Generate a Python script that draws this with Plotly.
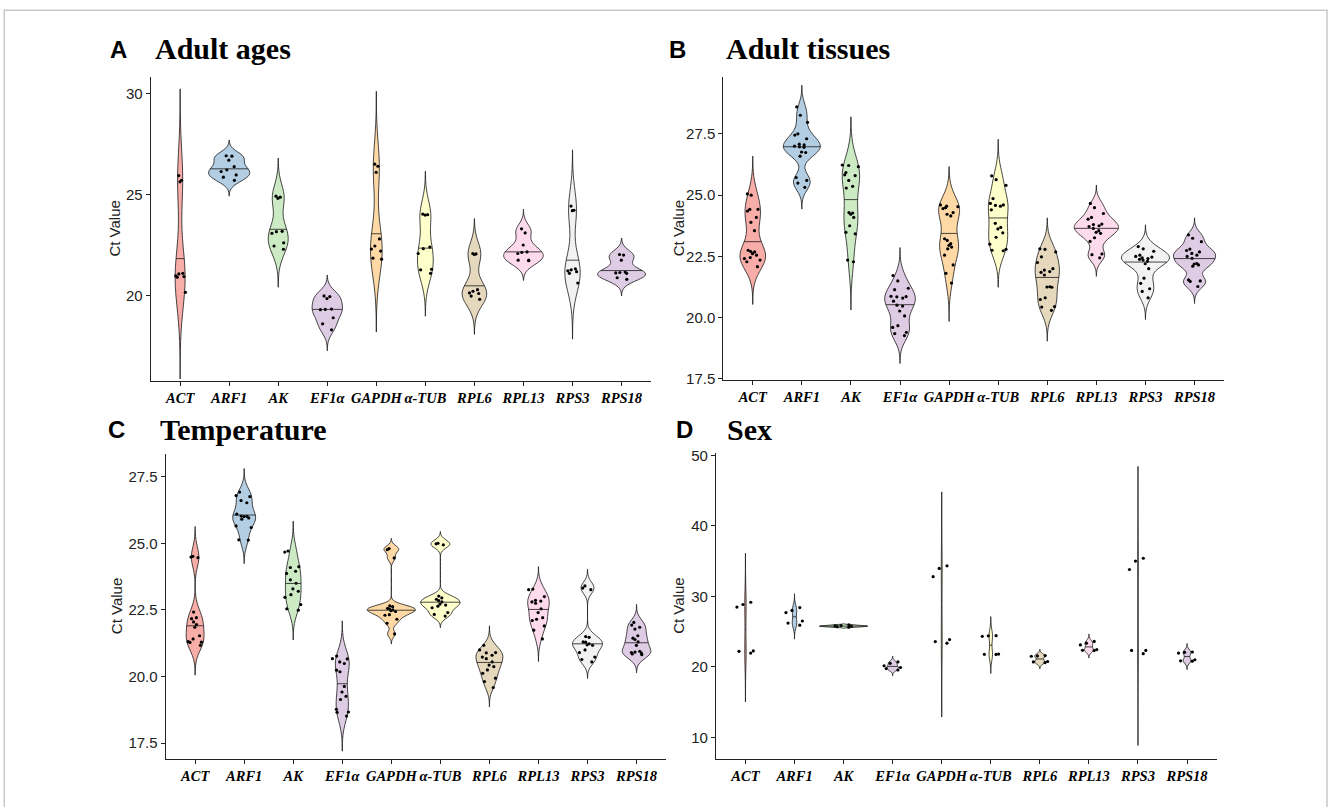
import numpy as np
import plotly.graph_objects as go

# ---------------- data (Ct values) ----------------
genes = ["ACT", "ARF1", "AK", "EF1α", "GAPDH", "α-TUB", "RPL6", "RPL13", "RPS3", "RPS18"]
fill_colors = ["#F8ADA8", "#B3CDE3", "#CCEBC5", "#DECBE4", "#FED9A6",
               "#FFFFCC", "#E5D8BD", "#FDDAEC", "#F2F2F2", "#DECBE4"]

ages_ct = [
    [25.94, 25.70, 25.63, 21.10, 21.07, 20.97, 20.94, 20.91, 20.16],
    [26.92, 26.90, 26.70, 26.38, 26.22, 26.14, 25.97, 25.86, 25.70],
    [24.92, 24.87, 24.81, 23.18, 23.16, 23.08, 22.61, 22.45, 22.29],
    [19.98, 19.95, 19.85, 19.33, 19.31, 19.30, 18.90, 18.60, 18.30],
    [26.50, 26.40, 26.10, 22.80, 22.45, 22.30, 22.20, 21.85, 21.80],
    [24.03, 23.98, 24.00, 22.40, 22.32, 22.08, 21.30, 21.27, 21.10],
    [22.08, 22.06, 22.03, 20.29, 20.21, 20.13, 20.10, 19.97, 19.81],
    [23.30, 23.10, 22.50, 22.16, 22.14, 22.08, 21.75, 21.75, 21.72],
    [24.43, 24.22, 24.20, 21.32, 21.27, 21.22, 21.18, 21.10, 20.62],
    [22.03, 22.00, 21.75, 21.16, 21.14, 21.12, 21.10, 20.88, 20.80],
]

tissues_ct = [
    [25.00, 25.05, 24.42, 24.42, 24.35, 24.09, 23.89, 23.55, 22.75,
     22.68, 22.61, 22.55, 22.41, 22.35, 22.28, 22.08, 22.70, 22.45],
    [28.60, 28.26, 27.97, 27.50, 27.45, 27.30, 27.08, 27.05, 27.00,
     26.97, 26.95, 26.76, 26.74, 26.59, 25.72, 25.49, 25.32, 25.60],
    [26.23, 26.21, 26.16, 25.92, 25.83, 25.80, 25.60, 25.36, 25.29,
     24.29, 24.27, 24.22, 24.09, 23.75, 23.48, 23.42, 22.35, 22.28],
    [21.72, 21.50, 21.20, 21.14, 20.87, 20.86, 20.85, 20.80, 20.67,
     20.51, 20.47, 20.27, 20.07, 19.67, 19.60, 19.40, 19.27, 19.35],
    [24.60, 24.55, 24.53, 24.49, 24.45, 24.29, 24.22, 24.15, 23.22,
     23.15, 23.02, 22.95, 22.88, 22.81, 22.55, 22.15, 21.81, 21.41],
    [25.79, 25.63, 25.40, 24.86, 24.66, 24.60, 24.58, 24.55, 24.40,
     23.85, 23.68, 23.62, 23.46, 23.28, 23.00, 22.79, 22.75, 22.73],
    [22.81, 22.79, 22.68, 22.48, 22.25, 22.00, 21.94, 21.88, 21.85,
     21.74, 21.25, 21.24, 21.26, 20.81, 20.74, 20.45, 20.43, 20.30],
    [24.66, 24.49, 24.25, 24.09, 24.02, 23.82, 23.80, 23.75, 23.72,
     23.64, 23.55, 23.48, 23.44, 23.26, 23.11, 22.60, 22.57, 22.44],
    [22.90, 22.81, 22.71, 22.55, 22.50, 22.47, 22.44, 22.41, 22.38,
     22.35, 22.30, 22.20, 22.00, 21.61, 21.18, 21.07, 20.81, 21.40],
    [23.38, 23.24, 23.10, 22.80, 22.74, 22.68, 22.62, 22.55, 22.50,
     22.42, 22.21, 22.19, 22.15, 22.10, 21.54, 21.50, 21.48, 21.27],
]

temperature_ct = [
    [24.51, 24.48, 24.46, 22.42, 22.21, 22.17, 22.05, 21.95, 21.85,
     21.53, 21.41, 21.31, 21.29, 21.28, 21.17],
    [26.92, 26.79, 26.75, 26.60, 26.52, 26.09, 26.02, 26.01, 25.95,
     25.90, 25.65, 25.59, 25.13, 25.12, 26.00],
    [24.71, 24.67, 24.12, 24.09, 23.95, 23.87, 23.63, 23.50, 23.29,
     23.20, 23.07, 22.97, 22.70, 22.54, 22.49],
    [20.77, 20.67, 20.66, 20.55, 20.49, 20.24, 20.18, 19.63, 19.42,
     19.26, 19.14, 18.77, 18.67, 18.66, 18.52],
    [24.80, 24.76, 24.45, 22.65, 22.62, 22.56, 22.53, 22.50, 22.47,
     22.44, 22.32, 22.30, 22.15, 22.00, 21.60],
    [25.00, 24.98, 24.94, 23.02, 22.95, 22.90, 22.85, 22.80, 22.72,
     22.68, 22.64, 22.58, 22.40, 22.33, 22.27],
    [21.17, 21.00, 20.90, 20.89, 20.80, 20.73, 20.67, 20.55, 20.43,
     20.37, 20.25, 20.12, 19.94, 19.81, 19.59],
    [23.28, 23.26, 23.00, 22.86, 22.83, 22.80, 22.75, 22.54, 22.40,
     22.21, 22.15, 22.10, 21.90, 21.74, 21.41],
    [23.40, 23.32, 23.26, 21.50, 21.47, 21.30, 21.29, 21.23, 21.19,
     21.17, 21.00, 20.90, 20.73, 20.64, 20.55],
    [22.03, 21.93, 21.85, 21.78, 21.53, 21.44, 21.39, 21.30, 21.17,
     20.95, 20.92, 20.90, 20.88, 20.85, 20.82],
]

sex_ct = [
    [29.16, 28.84, 28.47, 22.19, 22.25, 21.95],
    [28.40, 28.00, 27.70, 26.50, 26.20, 25.90],
    [25.95, 25.85, 25.80, 25.75, 25.70, 25.62],
    [20.70, 20.50, 20.15, 19.90, 19.75, 19.55],
    [34.33, 33.95, 32.79, 23.86, 23.58, 23.35],
    [24.42, 24.40, 24.33, 21.80, 21.77, 21.75],
    [21.60, 21.55, 21.50, 20.75, 20.70, 20.60],
    [23.60, 23.35, 23.10, 22.45, 22.35, 22.30],
    [35.40, 35.00, 33.80, 22.33, 22.33, 21.86],
    [22.10, 22.05, 21.95, 21.00, 20.85, 20.80],
]

panel_letters = ["A", "B", "C", "D"]
panel_titles = ["Adult ages", "Adult tissues", "Temperature", "Sex"]
panel_data = [ages_ct, tissues_ct, temperature_ct, sex_ct]
y_tick_values = [[20, 25, 30], [17.5, 20, 22.5, 25, 27.5],
                 [17.5, 20, 22.5, 25, 27.5], [10, 20, 30, 40, 50]]
y_tick_labels = [["20", "25", "30"],
                 ["17.5", "20.0", "22.5", "25.0", "27.5"],
                 ["17.5", "20.0", "22.5", "25.0", "27.5"],
                 ["10", "20", "30", "40", "50"]]
y_ranges = [[15.79, 30.84], [17.46, 29.84], [16.92, 28.36], [6.97, 50.33]]

# ---------------- layout geometry (pixels) ----------------
W, H = 1328, 807
plot_px_x = [(150.7, 651.0), (723.3, 1224.0), (165.7, 666.0), (716.0, 1216.5)]
plot_px_y = [(71.7, 380.7), (71.7, 380.0), (455.0, 765.0), (454.3, 765.0)]
letter_px = [(108, 44.0), (667, 44.0), (106, 430.0), (674, 430.0)]
title_px = [(153, 43.5), (724, 43.5), (158, 430.5), (725, 430.5)]
ytitle_px_x = [115, 678, 116, 679]

VIOLIN_GAP = 0.02           # violin half-width = 0.5 * (1 - gap) category units
BD_POS = 0.5 * (1 - VIOLIN_GAP)
LINE_C = "#1a1a1a"


def nrd0(v):
    v = np.asarray(v, float)
    sd = v.std(ddof=1)
    q75, q25 = np.percentile(v, [75, 25])
    lo = min(sd, (q75 - q25) / 1.34)
    if lo <= 0:
        lo = sd if sd > 0 else 1.0
    return 0.9 * lo * len(v) ** -0.2


def kde(v, bw, t):
    v = np.asarray(v, float)
    t = np.atleast_1d(np.asarray(t, float))
    z = (t[:, None] - v[None, :]) / bw
    return np.exp(-0.5 * z * z).sum(1) / (len(v) * bw * np.sqrt(2 * np.pi))


fig = go.Figure()
layout = {}
annotations = []

for p in range(4):
    data = panel_data[p]
    ax = "" if p == 0 else str(p + 1)
    xref, yref = "x" + ax, "y" + ax

    bws = [nrd0(v) for v in data]
    spans = [(min(v) - 3 * b, max(v) + 3 * b) for v, b in zip(data, bws)]
    panel_max = 0.0
    for v, b, (s0, s1) in zip(data, bws, spans):
        n = int(np.ceil((s1 - s0) / (b / 3)))
        grid = np.linspace(s0, s1, n + 1)
        panel_max = max(panel_max, kde(v, b, grid).max())

    for i, (g, v) in enumerate(zip(genes, data)):
        b = bws[i]
        s0, s1 = spans[i]
        fig.add_trace(go.Violin(
            x0=i, y=v, orientation="v", name=g,
            xaxis=xref, yaxis=yref,
            fillcolor=fill_colors[i], opacity=1,
            line=dict(color=LINE_C, width=0.8),
            bandwidth=b, spanmode="manual", span=[s0, s1],
            scalegroup="panel" + panel_letters[p], scalemode="width",
            points="all", pointpos=0, jitter=0.42,
            marker=dict(color="black", size=3.2, line=dict(width=0)),
            box_visible=False, meanline_visible=False,
            showlegend=False, hoveron="points",
        ))
        # median (draw_quantiles = 0.5) computed from the density estimate
        grid = np.linspace(s0, s1, 512)
        dens = kde(v, b, grid)
        cdf = np.cumsum(dens) / dens.sum()
        ymed = float(np.interp(0.5, cdf, grid))
        half = float(kde(v, b, ymed)[0] / panel_max * BD_POS)
        fig.add_trace(go.Scatter(
            x=[i - half, i + half], y=[ymed, ymed], mode="lines",
            line=dict(color=LINE_C, width=0.8),
            xaxis=xref, yaxis=yref, hoverinfo="skip", showlegend=False,
        ))

    px0, px1 = plot_px_x[p]
    py0, py1 = plot_px_y[p]
    layout["xaxis" + ax] = dict(
        domain=[px0 / W, px1 / W], anchor=yref,
        range=[-0.6, len(genes) - 0.4],
        tickmode="array", tickvals=list(range(len(genes))), ticktext=genes,
        tickangle=0,
        tickfont=dict(family="Liberation Serif", size=14.5, color="black",
                      weight="bold", style="italic"),
        showline=True, linecolor="#222", linewidth=1.1,
        ticks="outside", ticklen=4, tickcolor="#222", tickwidth=1,
        showgrid=False, zeroline=False, fixedrange=True,
    )
    layout["yaxis" + ax] = dict(
        domain=[1 - py1 / H, 1 - py0 / H], anchor=xref,
        range=y_ranges[p],
        tickmode="array", tickvals=y_tick_values[p], ticktext=y_tick_labels[p],
        tickfont=dict(family="Liberation Sans", size=15, color="#222"),
        showline=True, linecolor="#222", linewidth=1.1,
        ticks="outside", ticklen=4, tickcolor="#222", tickwidth=1,
        showgrid=False, zeroline=False, fixedrange=True,
    )

    lx, ly = letter_px[p]
    annotations.append(dict(
        text="<b>" + panel_letters[p] + "</b>", xref="paper", yref="paper",
        x=lx / W, y=1 - ly / H, xanchor="left", yanchor="middle",
        showarrow=False, font=dict(family="Liberation Sans", size=24, color="black"),
    ))
    tx, ty = title_px[p]
    annotations.append(dict(
        text="<b>" + panel_titles[p] + "</b>", xref="paper", yref="paper",
        x=tx / W, y=1 - ty / H, xanchor="left", yanchor="middle",
        showarrow=False, font=dict(family="Liberation Serif", size=30, color="black"),
    ))
    annotations.append(dict(
        text="Ct Value", xref="paper", yref="paper", textangle=-90,
        x=ytitle_px_x[p] / W, y=1 - (py0 + py1) / 2 / H,
        xanchor="center", yanchor="middle", showarrow=False,
        font=dict(family="Liberation Sans", size=15, color="#222"),
    ))

fig.update_layout(
    width=W, height=H,
    margin=dict(l=0, r=0, t=0, b=0),
    paper_bgcolor="white", plot_bgcolor="white",
    violinmode="overlay", violingap=VIOLIN_GAP, violingroupgap=0,
    annotations=annotations,
    shapes=[dict(type="rect", xref="paper", yref="paper",
                 x0=4.3 / W, x1=1327 / W, y0=-0.05, y1=1 - 4.3 / H,
                 line=dict(color="#c8c8c8", width=1.5), fillcolor="rgba(0,0,0,0)")],
    showlegend=False,
    **layout,
)

fig.write_html("out.html")
